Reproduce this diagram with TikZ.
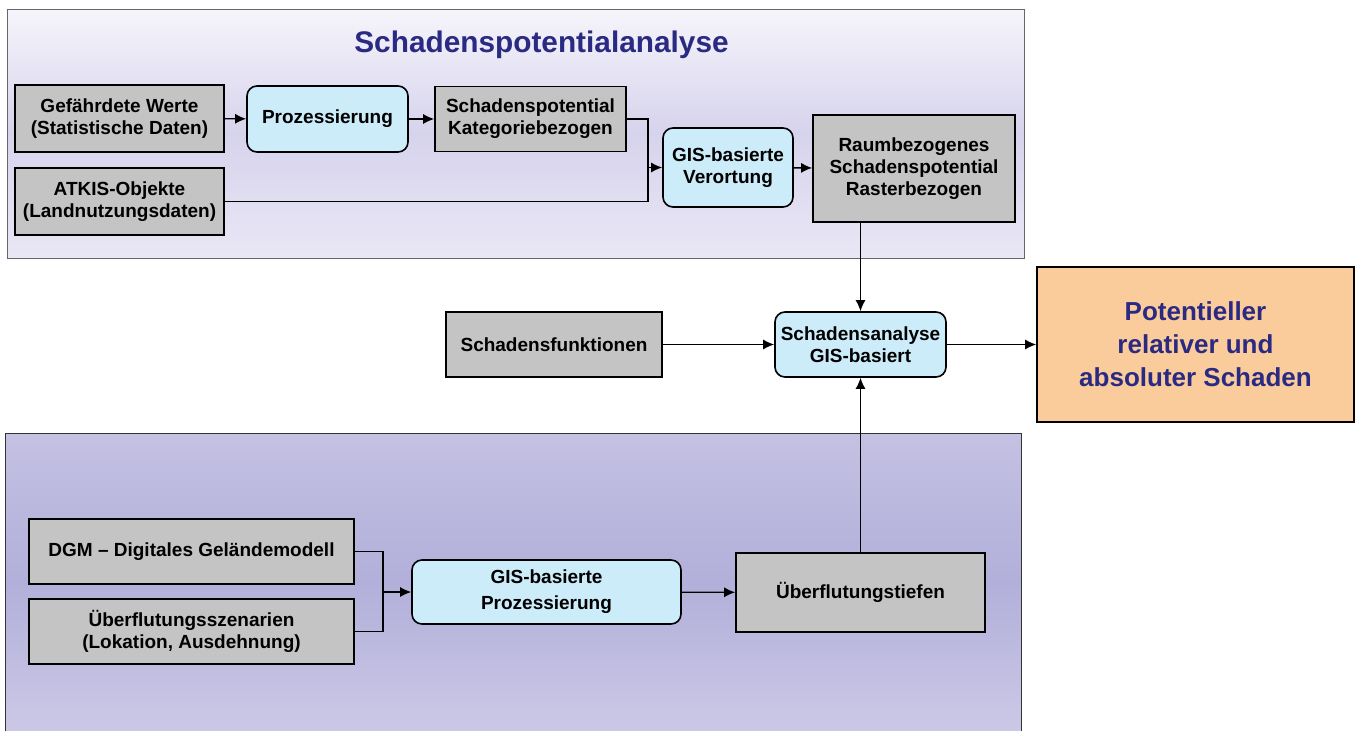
\documentclass[tikz,border=0pt]{standalone}
\usepackage{fontspec}
\setmainfont{Liberation Sans}
\usetikzlibrary{arrows.meta}
\definecolor{boxgray}{RGB}{196,196,196}
\definecolor{boxblue}{RGB}{204,236,250}
\definecolor{potorange}{RGB}{250,203,155}
\definecolor{titleblue}{RGB}{42,42,130}
\definecolor{panelhi}{RGB}{246,245,251}
\definecolor{panelmid}{RGB}{214,211,236}
\definecolor{panello}{RGB}{178,175,218}
\tikzset{databox/.style={draw=black, line width=1.6pt, fill=boxgray, align=center, inner sep=2pt, font=\fontsize{19}{22}\selectfont\bfseries},
  procbox/.style={databox, fill=boxblue, rounded corners=10pt},
  conn/.style={line width=1.4pt, -{Latex[length=11pt,width=10pt]}},
  line/.style={line width=1.4pt}}

\begin{document}
\begin{tikzpicture}[x=1pt,y=-1pt]
    \useasboundingbox (0,0) rectangle (1358,731);
    \fill[white] (0,0) rectangle (1358,731);
    \shade[top color=panelhi, bottom color=panelhi!60!panelmid, middle color=panelmid, draw=gray!80!black, line width=1pt] (7,9) rectangle (1024,258);
    \shade[top color=panelmid!50!panello, bottom color=panelmid!70!panello, middle color=panello, draw=black!80, line width=1pt] (5,433) rectangle (1021,731);
    \node[anchor=base, text=titleblue, font=\fontsize{29.8}{34}\selectfont\bfseries] (title) at (541.5,52) {Schadenspotentialanalyse};
    \node[databox, minimum width=209pt, minimum height=67pt] (gw) at (119.5,118.5) {Gefährdete Werte\\(Statistische Daten)};
    \node[databox, minimum width=209pt, minimum height=67pt] (atkis) at (119.5,201.5) {ATKIS-Objekte\\(Landnutzungsdaten)};
    \node[procbox, minimum width=161pt, minimum height=66pt] (proz) at (327.5,119) {Prozessierung};
    \node[databox, minimum width=191pt, minimum height=65pt] (skat) at (530.5,119) {Schadenspotential\\Kategoriebezogen};
    \node[procbox, minimum width=130pt, minimum height=79pt] (gisv) at (728,167.5) {GIS-basierte\\Verortung};
    \node[databox, minimum width=202pt, minimum height=107pt] (raum) at (914,168.5) {Raumbezogenes\\Schadenspotential\\Rasterbezogen};
    \node[databox, minimum width=216pt, minimum height=65pt] (sfunk) at (554,344.5) {Schadensfunktionen};
    \node[procbox, minimum width=171pt, minimum height=65pt] (sana) at (860.5,344.5) {Schadensanalyse\\GIS-basiert};
    \node[databox, fill=potorange, text=titleblue, minimum width=317pt, minimum height=155pt, font=\fontsize{26}{33}\selectfont\bfseries] (pot) at (1195.5,344.5) {Potentieller\\relativer und\\absoluter Schaden};
    \node[databox, minimum width=325pt, minimum height=65pt] (dgm) at (191.5,551.5) {DGM -- Digitales Geländemodell};
    \node[databox, minimum width=325pt, minimum height=65pt] (szen) at (191.5,631.5) {Überflutungsszenarien\\(Lokation, Ausdehnung)};
    \node[procbox, minimum width=269pt, minimum height=64pt, font=\fontsize{19}{26}\selectfont\bfseries] (gisp) at (546.5,592) {GIS-basierte\\Prozessierung};
    \node[databox, minimum width=249pt, minimum height=79pt] (tiefen) at (860.5,592.5) {Überflutungstiefen};
    \coordinate (J1) at (648,167.5);
    \coordinate (J2) at (383,592);
    \draw[conn] (gw) -- (proz);
    \draw[conn] (proz) -- (skat);
    \draw[line] (skat.east) -| (J1);
    \draw[line] (atkis.east) -| (J1);
    \draw[conn] (J1) -- (gisv.west);
    \draw[conn] (gisv) -- (raum);
    \draw[conn] (raum.south -| sana.north) -- (sana.north);
    \draw[conn] (sfunk) -- (sana);
    \draw[conn] (sana) -- (pot);
    \draw[conn] (tiefen.north) -- (sana.south);
    \draw[line] (dgm.east) -| (J2);
    \draw[line] (szen.east) -| (J2);
    \draw[conn] (J2) -- (gisp.west);
    \draw[conn] (gisp) -- (tiefen);
\end{tikzpicture}
\end{document}
